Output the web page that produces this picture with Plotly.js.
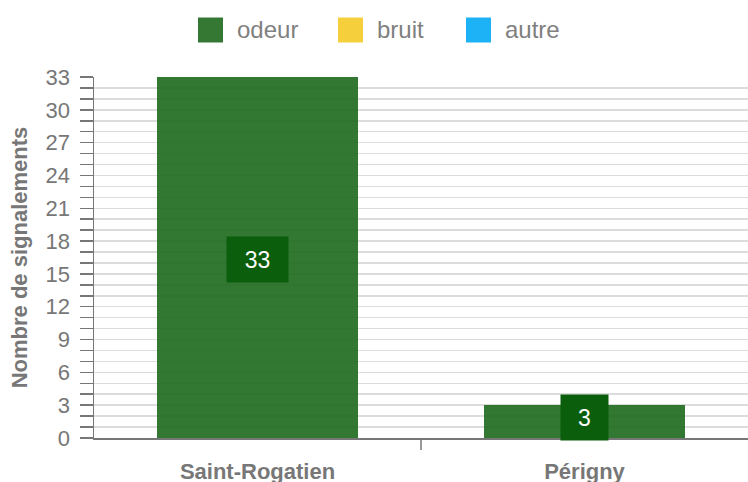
<!DOCTYPE html>
<html>
<head>
<meta charset="utf-8">
<script src="https://cdn.plot.ly/plotly-3.0.1.min.js"></script>
<style>html,body{margin:0;padding:0;background:#fff;}#chart{width:748px;height:482px;}</style>
</head>
<body>
<div id="chart"></div>
<script>
const categories = ['Saint-Rogatien', 'Périgny'];
const odeur = [33, 3];
const bruit = [0, 0];
const autre = [0, 0];
const seriesNames = ['odeur', 'bruit', 'autre'];
const seriesValues = [odeur, bruit, autre];
const seriesColors = ['rgb(28,104,28)', '#f5d03c', '#1cb2f5'];
const yTitle = 'Nombre de signalements';
const yMax = 33;

const W = 748, H = 482;
const M = {l: 94, r: 0, t: 77, b: 44};
const plotH = H - M.t - M.b;
const plotW = W - M.l - M.r;
const FONT = 'Liberation Sans, Arial, sans-serif';
const GREY = '#777777';

const traces = seriesNames.map((name, i) => ({
  type: 'bar',
  name: name,
  x: categories,
  y: seriesValues[i],
  marker: {color: seriesColors[i], opacity: 0.9, line: {width: 0}},
  hoverinfo: 'x+y+name',
  showlegend: false
}));

// value labels (boxes at bar middle, kept within plot)
const pxPerUnit = plotH / yMax;
const annotations = [];
categories.forEach((c, ci) => {
  const v = odeur[ci];
  if (!v) return;
  const txt = String(v);
  const bw = 33 + 14 * txt.length, bh = 45;
  const halfPx = v / 2 * pxPerUnit;
  const a = {
    x: c, xref: 'x', yref: 'y', text: txt, showarrow: false,
    font: {family: FONT, size: 23, color: '#ffffff'},
    bgcolor: '#0b5e0b', borderpad: 0, width: bw, height: bh,
    align: 'center', valign: 'middle'
  };
  if (halfPx - bh / 2 < 0) { a.y = 0; a.yanchor = 'bottom'; a.yshift = -3; }
  else { a.y = v / 2; a.yanchor = 'middle'; a.yshift = -2; }
  annotations.push(a);
});

// custom legend
const shapes = [];
const legendX = [198, 338, 466];
const legendY = 30, sq = 25;
const toPX = px => (px - M.l) / plotW;
const toPY = py => (H - M.b - py) / plotH;
seriesNames.forEach((n, i) => {
  shapes.push({type: 'rect', xref: 'paper', yref: 'paper',
    x0: toPX(legendX[i]), x1: toPX(legendX[i] + sq),
    y0: toPY(legendY + sq / 2), y1: toPY(legendY - sq / 2),
    fillcolor: i === 0 ? '#347834' : seriesColors[i], line: {width: 0}, layer: 'above'});
  annotations.push({xref: 'paper', yref: 'paper', x: toPX(legendX[i] + sq + 12), y: toPY(legendY),
    xanchor: 'left', yanchor: 'middle', showarrow: false, text: n,
    font: {family: FONT, size: 24, color: '#808080'}});
});

// category boundary ticks (interior only)
for (let i = 0; i < categories.length - 1; i++) {
  shapes.push({type: 'line', xref: 'x', yref: 'paper', ysizemode: 'pixel', yanchor: 0,
    x0: i + 0.5, x1: i + 0.5, y0: 0, y1: -12, line: {color: GREY, width: 1.5}});
}

const layout = {
  width: W, height: H,
  margin: M,
  paper_bgcolor: '#ffffff', plot_bgcolor: '#ffffff',
  barmode: 'stack', bargap: 0.388,
  showlegend: false,
  font: {family: FONT, color: GREY},
  xaxis: {
    type: 'category', showline: true, linecolor: GREY, linewidth: 1.5,
    ticks: '', ticklabelstandoff: 13,
    tickfont: {family: FONT, size: 22, weight: 'bold', color: GREY},
    showgrid: false, zeroline: false, fixedrange: true
  },
  yaxis: {
    range: [0, yMax], tick0: 0, dtick: 3,
    showline: true, linecolor: GREY, linewidth: 1.5,
    ticks: 'outside', ticklen: 13, tickwidth: 1.5, tickcolor: GREY,
    ticklabelstandoff: 5,
    tickfont: {family: FONT, size: 22, color: GREY},
    gridcolor: '#dcdcdc', gridwidth: 1.5, zeroline: false,
    minor: {dtick: 1, tick0: 0, ticks: 'outside', ticklen: 13, tickwidth: 1.5, tickcolor: GREY,
      showgrid: true, gridcolor: '#dcdcdc', gridwidth: 1.5},
    title: {text: yTitle, font: {family: FONT, size: 22, weight: 'bold', color: GREY}, standoff: 12},
    fixedrange: true
  },
  annotations: annotations,
  shapes: shapes
};

Plotly.newPlot('chart', traces, layout, {displayModeBar: false, staticPlot: true});
</script>
</body>
</html>
